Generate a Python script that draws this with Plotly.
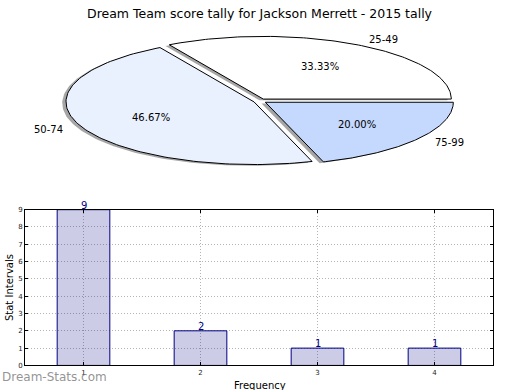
import numpy as np
import plotly.graph_objects as go

# ---- data ----
title_text = "Dream Team score tally for Jackson Merrett - 2015 tally"
pie_labels = ["25-49", "50-74", "75-99"]
pie_values = [5, 7, 3]
pie_colors = ["#ffffff", "#eaf1fe", "#c5d8fe"]
bar_x = [1, 2, 3, 4]
bar_values = [9, 2, 1, 1]
y_ticks = list(range(0, 10))

W, H = 520, 390
FONT = "DejaVu Sans"

# pie geometry (pixel layout)
cx_px, cy_px, rx_px, ry_px = 260.0, 99.0, 188.0, 64.0
explode = 0.035
shadow_off = 0.02

fig = go.Figure()

total = float(sum(pie_values))
fracs = [v / total for v in pie_values]
starts = np.cumsum([0] + fracs[:-1]) * 360.0

wedges = []
for lab, f, s, col in zip(pie_labels, fracs, starts, pie_colors):
    e = s + f * 360.0
    mid = np.deg2rad((s + e) / 2)
    ox, oy = explode * np.cos(mid), explode * np.sin(mid)
    th = np.deg2rad(np.linspace(s, e, 120))
    xs = np.concatenate([[ox], ox + np.cos(th), [ox]])
    ys = np.concatenate([[oy], oy + np.sin(th), [oy]])
    wedges.append((lab, f, col, mid, ox, oy, xs, ys))

# shadows first (drawn below wedges)
for lab, f, col, mid, ox, oy, xs, ys in wedges:
    fig.add_trace(go.Scatter(
        x=xs - shadow_off, y=ys - shadow_off, xaxis="x2", yaxis="y2",
        mode="lines", fill="toself", fillcolor="rgba(77,77,77,0.5)",
        line=dict(width=0), hoverinfo="skip", showlegend=False))

for lab, f, col, mid, ox, oy, xs, ys in wedges:
    fig.add_trace(go.Scatter(
        x=xs, y=ys, xaxis="x2", yaxis="y2",
        mode="lines", fill="toself", fillcolor=col,
        line=dict(color="black", width=1), name=lab,
        hoverinfo="name", showlegend=False))

annotations = []
for lab, f, col, mid, ox, oy, xs, ys in wedges:
    lx, ly = ox + 1.1 * np.cos(mid), oy + 1.1 * np.sin(mid)
    annotations.append(dict(
        x=lx, y=ly, xref="x2", yref="y2", text=lab, showarrow=False,
        xanchor="left" if lx > 0 else "right", yanchor="middle",
        font=dict(family=FONT, size=10, color="black")))
    px_, py_ = ox + 0.6 * np.cos(mid), oy + 0.6 * np.sin(mid)
    annotations.append(dict(
        x=px_, y=py_, xref="x2", yref="y2", text="%.2f%%" % (f * 100),
        showarrow=False, xanchor="center", yanchor="middle",
        font=dict(family=FONT, size=10, color="black")))

# bar chart
fig.add_trace(go.Bar(
    x=bar_x, y=bar_values, width=0.45,
    marker=dict(color="rgba(0,0,128,0.2)", line=dict(color="#000080", width=1)),
    showlegend=False, hoverinfo="x+y"))

for xv, yv in zip(bar_x, bar_values):
    annotations.append(dict(
        x=xv, y=yv, xref="x", yref="y", text=str(yv), showarrow=False,
        xanchor="center", yanchor="bottom", yshift=-3,
        font=dict(family=FONT, size=10, color="#000080")))

# title, axis titles, watermark
annotations.append(dict(x=260 / W, y=1 - 10 / H, xref="paper", yref="paper",
                        text=title_text, showarrow=False, xanchor="center",
                        yanchor="middle", font=dict(family=FONT, size=12.5, color="black")))
annotations.append(dict(x=260 / W, y=1 - 389 / H, xref="paper", yref="paper",
                        text="Frequency", showarrow=False, xanchor="center",
                        yanchor="middle", font=dict(family=FONT, size=10, color="black")))
annotations.append(dict(x=9 / W, y=1 - 290 / H, xref="paper", yref="paper",
                        text="Stat Intervals", showarrow=False, textangle=-90,
                        xanchor="center", yanchor="middle",
                        font=dict(family=FONT, size=10, color="black")))
annotations.append(dict(x=0, y=1 - 381 / H, xref="paper", yref="paper",
                        text="Dream-Stats.com", showarrow=False, xanchor="left",
                        yanchor="middle",
                        font=dict(family=FONT, size=12, color="rgba(120,120,120,0.8)")))

grid_style = dict(showgrid=True, gridcolor="#b4b4b4", griddash="1px,2px", gridwidth=1)
pie_dom_h = 195.0
fig.update_layout(
    width=W, height=H, margin=dict(l=0, r=0, t=0, b=0),
    paper_bgcolor="white", plot_bgcolor="white",
    annotations=annotations,
    xaxis=dict(domain=[25 / W, 493 / W], range=[0.5, 4.5], tickvals=bar_x,
               ticks="inside", ticklen=3, tickcolor="black",
               showline=True, linecolor="black", linewidth=1, mirror="ticks",
               zeroline=False, tickfont=dict(family=FONT, size=7, color="#222"),
               fixedrange=True, **grid_style),
    yaxis=dict(domain=[1 - 369 / H, 1 - 210 / H], range=[0, 9], tickvals=y_ticks,
               ticks="inside", ticklen=3, tickcolor="black",
               showline=True, linecolor="black", linewidth=1, mirror="ticks",
               zeroline=False, tickfont=dict(family=FONT, size=7, color="#222"),
               fixedrange=True, **grid_style),
    xaxis2=dict(domain=[0, 1], anchor="y2",
                range=[-cx_px / rx_px, (W - cx_px) / rx_px],
                visible=False, fixedrange=True),
    yaxis2=dict(domain=[1 - pie_dom_h / H, 1], anchor="x2",
                range=[-(pie_dom_h - cy_px) / ry_px, cy_px / ry_px],
                visible=False, fixedrange=True),
)

post = (
    "document.documentElement.style.margin='0';"
    "document.documentElement.style.overflow='hidden';"
    "document.body.style.margin='0';"
    "document.body.style.overflow='hidden';"
    "var gd=document.getElementById('{plot_id}');"
    "gd.style.overflow='hidden';gd.style.height='390px';"
    "if(gd.parentNode){gd.parentNode.style.height='390px';gd.parentNode.style.overflow='hidden';}"
)
fig.write_html("out.html", config={"displayModeBar": False}, post_script=post)
